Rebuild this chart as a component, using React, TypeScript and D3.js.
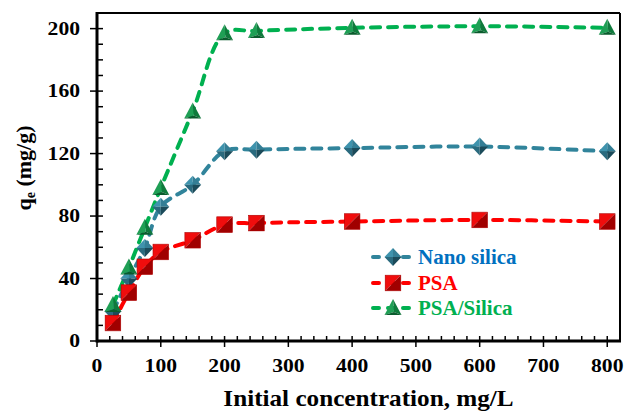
import React from "react";
import * as d3 from "d3";

// Initial concentration (mg/L)
const concentrations = [25, 50, 75, 100, 150, 200, 250, 400, 600, 800];
// Equilibrium uptake q_e (mg/g)
const nanoSilica = [19, 40, 59.5, 86, 100, 121.5, 122.5, 123.5, 124.5, 121.5];
const psa = [11.5, 31, 47.5, 57, 64.5, 74.5, 75.5, 76.5, 77.5, 76.5];
const psaSilica = [23, 47, 72.5, 98, 147, 197, 198.5, 200.5, 201.5, 200.5];

const xTicks = [0, 100, 200, 300, 400, 500, 600, 700, 800];
const yTicks = [0, 40, 80, 120, 160, 200];
const seriesNames = ["Nano silica", "PSA", "PSA/Silica"];

const W = 625;
const H = 411;
const left = 97;
const right = 620;
const top = 13;
const bottom = 341;

const FONT = "'Liberation Serif', 'Times New Roman', serif";

type Kind = "diamond" | "square" | "triangle";

function Marker({ kind, x, y }: { kind: Kind; x: number; y: number }) {
  if (kind === "diamond") {
    const w = 8.5, h = 9;
    return (
      <g transform={`translate(${x},${y})`}>
        <polygon points={`0,${-h} ${-w},0 0,0`} fill="#3f93ad" />
        <polygon points={`0,${-h} ${w},0 0,0`} fill="#347e95" />
        <polygon points={`${-w},0 0,${h} 0,0`} fill="#2a6a7e" />
        <polygon points={`${w},0 0,${h} 0,0`} fill="#1b4b5a" />
      </g>
    );
  }
  if (kind === "square") {
    const s = 7.8;
    return (
      <g transform={`translate(${x},${y})`}>
        <polygon points={`${-s},${-s} ${s},${-s} ${-s},${s}`} fill="#f00d0d" />
        <polygon points={`${s},${-s} ${s},${s} ${-s},${s}`} fill="#a00000" />
        <rect x={-s} y={-s} width={2 * s} height={2 * s} fill="none" stroke="#b00000" strokeWidth={0.6} />
      </g>
    );
  }
  const hw = 8.5, up = 9, down = 7;
  return (
    <g transform={`translate(${x},${y})`}>
      <polygon points={`0,${-up} ${-hw},${down} 1,${down - 3}`} fill="#1f9f55" />
      <polygon points={`0,${-up} 1,${down - 3} ${hw},${down}`} fill="#0f7a3c" />
      <polygon points={`${-hw},${down} ${hw},${down} 1,${down - 3}`} fill="#0a5c2d" />
    </g>
  );
}

export default function App() {
  const x = d3.scaleLinear().domain([0, 820]).range([left, right]);
  const y = d3.scaleLinear().domain([0, 210]).range([bottom, top]);

  const series = [
    { name: seriesNames[0], values: nanoSilica, line: "#31849b", text: "#0070c0", kind: "diamond" as Kind },
    { name: seriesNames[1], values: psa, line: "#ff0000", text: "#ff0000", kind: "square" as Kind },
    { name: seriesNames[2], values: psaSilica, line: "#00b050", text: "#00b050", kind: "triangle" as Kind },
  ];

  const lineGen = d3
    .line<number>()
    .x((_, i) => x(concentrations[i]))
    .y((d) => y(d))
    .curve(d3.curveCatmullRom.alpha(0.5));

  const xMinor = d3.range(0, 821, 20).filter((v) => v % 100 !== 0);
  const yMinor = d3.range(0, 211, 10).filter((v) => v % 40 !== 0);

  const legendX = 372;
  const legendY = [257, 283, 308];

  return (
    <svg
      width={W}
      height={H}
      style={{ position: "absolute", left: 0, top: 0, background: "#fff" }}
      fontFamily={FONT}
      fontWeight="bold"
    >
      <rect x={0} y={0} width={W} height={H} fill="#fff" />

      {/* frame */}
      <line x1={left} x2={right} y1={top} y2={top} stroke="#000" strokeWidth={2} />
      <line x1={right} x2={right} y1={top} y2={bottom} stroke="#000" strokeWidth={2} />

      {/* x ticks */}
      {xMinor.map((v) => (
        <line key={"xm" + v} x1={x(v)} x2={x(v)} y1={bottom - 5} y2={bottom} stroke="#000" strokeWidth={1.5} />
      ))}
      {xTicks.map((v) => (
        <line key={"xt" + v} x1={x(v)} x2={x(v)} y1={bottom - 5} y2={bottom + 6} stroke="#000" strokeWidth={1.5} />
      ))}
      {/* y ticks */}
      {yMinor.map((v) => (
        <line key={"ym" + v} x1={left} x2={left + 6} y1={y(v)} y2={y(v)} stroke="#000" strokeWidth={1.5} />
      ))}
      {yTicks.map((v) => (
        <line key={"yt" + v} x1={left - 7} x2={left + 6} y1={y(v)} y2={y(v)} stroke="#000" strokeWidth={1.5} />
      ))}

      {/* axes */}
      <line x1={left} x2={right + 1} y1={bottom} y2={bottom} stroke="#000" strokeWidth={3} />
      <line x1={left} x2={left} y1={top - 1} y2={bottom + 1.5} stroke="#000" strokeWidth={3} />

      {/* tick labels */}
      {xTicks.map((v) => (
        <text
          key={"xl" + v}
          transform={`translate(${x(v)},${372}) scale(1.2,1)`}
          textAnchor="middle"
          fontSize={18}
          fill="#000"
        >
          {v}
        </text>
      ))}
      {yTicks.map((v) => (
        <text
          key={"yl" + v}
          transform={`translate(${80},${y(v) + 6}) scale(1.2,1)`}
          textAnchor="end"
          fontSize={18}
          fill="#000"
        >
          {v}
        </text>
      ))}

      {/* axis titles */}
      <text
        transform={`translate(${(left + right) / 2 + 10},406) scale(1.05,1)`}
        textAnchor="middle"
        fontSize={24}
        fill="#000"
      >
        Initial concentration, mg/L
      </text>
      <text transform={`translate(31,168) rotate(-90)`} textAnchor="middle" fontSize={22} fill="#000">
        q<tspan fontSize={14} dy={4}>e</tspan>
        <tspan dy={-4}> (mg/g)</tspan>
      </text>

      {/* series */}
      {series.map((s) => (
        <path
          key={"p" + s.name}
          d={lineGen(s.values) || ""}
          fill="none"
          stroke={s.line}
          strokeWidth={4}
          strokeDasharray="9 8"
          strokeLinecap="round"
        />
      ))}
      {series.map((s) =>
        s.values.map((v, i) => (
          <Marker key={s.name + i} kind={s.kind} x={x(concentrations[i])} y={y(v)} />
        ))
      )}

      {/* legend */}
      {series.map((s, i) => (
        <g key={"lg" + s.name}>
          <line
            x1={legendX}
            x2={legendX + 42}
            y1={legendY[i]}
            y2={legendY[i]}
            stroke={s.line}
            strokeWidth={4}
            strokeDasharray="6 9"
            strokeLinecap="round"
            strokeDashoffset={-1}
          />
          <Marker kind={s.kind} x={legendX + 21} y={legendY[i]} />
          <text x={legendX + 46} y={legendY[i] + 7} fontSize={21} fill={s.text}>
            {s.name}
          </text>
        </g>
      ))}
    </svg>
  );
}
